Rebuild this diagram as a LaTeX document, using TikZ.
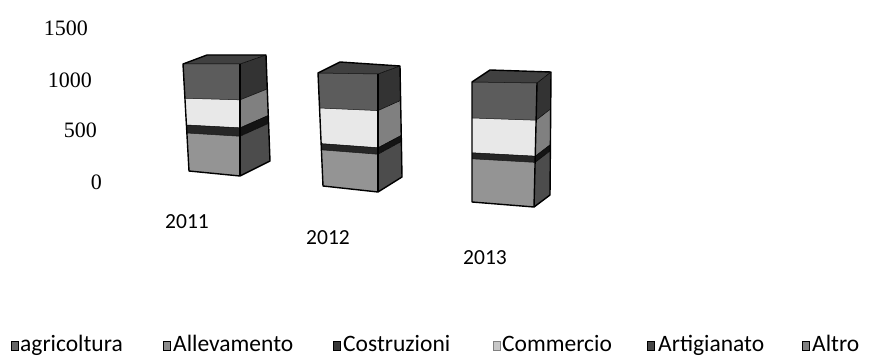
\documentclass[tikz,border=0pt]{standalone}
\usepackage{fontspec}
\setmainfont{Carlito}
\newfontfamily\axisfont{Liberation Serif}
\usetikzlibrary{calc}
\colorlet{cDarkF}{black!64}
\colorlet{cDarkS}{black!80}
\colorlet{cWhiteF}{black!9}
\colorlet{cWhiteS}{black!50}
\colorlet{cStripeF}{black!85}
\colorlet{cStripeS}{black!92}
\colorlet{cGrayF}{black!42}
\colorlet{cGrayS}{black!70}
\colorlet{cTop}{black!75}
\tikzset{
  axislbl/.style={font=\axisfont\fontsize{22}{24}\selectfont, anchor=east, inner sep=0pt},
  yearlbl/.style={font=\fontsize{21.5}{24}\selectfont, inner sep=0pt},
  leglbl/.style={font=\fontsize{23.5}{26}\selectfont, anchor=base west, inner sep=0pt},
  legicon/.style={draw=black, line width=0.6pt, minimum width=7pt, minimum height=9pt, inner sep=0pt},
  outline/.style={draw=black, line width=1.4pt, line join=round},
  inner/.style={draw=black, line width=0.5pt}
}
% segment of a face between fractions #3 and #4, on edges (#1) and (#2), colour #5
\newcommand\myseg[5]{%
  \fill[#5] ($(#1T)!#3!(#1B)$) -- ($(#2T)!#3!(#2B)$) -- ($(#2T)!#4!(#2B)$) -- ($(#1T)!#4!(#1B)$) -- cycle;}
\newcommand\mybar[3]{%
  \myseg{L}{R}{0}{#1}{cDarkF}
  \myseg{L}{R}{#1}{#2}{cWhiteF}
  \myseg{L}{R}{#2}{#3}{cStripeF}
  \myseg{L}{R}{#3}{1}{cGrayF}
  \myseg{R}{S}{0}{#1}{cDarkS}
  \myseg{R}{S}{#1}{#2}{cWhiteS}
  \myseg{R}{S}{#2}{#3}{cStripeS}
  \myseg{R}{S}{#3}{1}{cGrayS}
  \fill[cTop] (LT) -- (RT) -- (ST) -- (K) -- cycle;
  \draw[inner] ($(LT)!#1!(LB)$) -- ($(RT)!#1!(RB)$) -- ($(ST)!#1!(SB)$);
  \draw[inner] ($(LT)!#2!(LB)$) -- ($(RT)!#2!(RB)$) -- ($(ST)!#2!(SB)$);
  \draw[inner] ($(LT)!#3!(LB)$) -- ($(RT)!#3!(RB)$) -- ($(ST)!#3!(SB)$);
  \draw[inner] (LT) -- (RT) -- (ST);
  \draw[outline] (LT) -- (K) -- (ST) -- (SB) -- (RB) -- (LB) -- cycle;
  \draw[outline] (RT) -- (RB);
}
\begin{document}
\begin{tikzpicture}[x=1pt,y=-1pt]
\useasboundingbox (0,0) rectangle (872,358);
\fill[white] (0,0) rectangle (872,358);

% axis labels
\node[axislbl] (a1500) at (88,28) {1500};
\node[axislbl] (a1000) at (92,80) {1000};
\node[axislbl] (a500) at (97,130) {500};
\node[axislbl] (a0) at (102,182) {0};

% bar 2011
\coordinate (LT) at (183,64); \coordinate (LB) at (189,171);
\coordinate (RT) at (240,64); \coordinate (RB) at (240,176);
\coordinate (ST) at (266,55); \coordinate (SB) at (270,161);
\coordinate (K) at (207,55);
\mybar{0.32}{0.57}{0.645}

% bar 2012
\coordinate (LT) at (318,73); \coordinate (LB) at (323,186);
\coordinate (RT) at (378,74); \coordinate (RB) at (378,192);
\coordinate (ST) at (400,66); \coordinate (SB) at (402,177);
\coordinate (K) at (340,62);
\mybar{0.31}{0.625}{0.68}

% bar 2013
\coordinate (LT) at (472,82); \coordinate (LB) at (472,202);
\coordinate (RT) at (537,83); \coordinate (RB) at (534,207);
\coordinate (ST) at (551,72); \coordinate (SB) at (550,195);
\coordinate (K) at (490,70);
\mybar{0.30}{0.59}{0.64}

% year labels
\node[yearlbl] (y2011) at (187,222) {2011};
\node[yearlbl] (y2012) at (328,238) {2012};
\node[yearlbl] (y2013) at (485,258) {2013};

% legend
\node[legicon, fill=black!60] (i1) at (15,346) {};
\node[leglbl] (l1) at (20,351) {agricoltura};
\node[legicon, fill=black!45] (i2) at (167,346) {};
\node[leglbl] (l2) at (173,351) {Allevamento};
\node[legicon, fill=black!78] (i3) at (337,346) {};
\node[leglbl] (l3) at (343,351) {Costruzioni};
\node[legicon, draw=black!50, fill=black!22] (i4) at (497,346) {};
\node[leglbl] (l4) at (502,351) {Commercio};
\node[legicon, fill=black!72] (i5) at (651,346) {};
\node[leglbl] (l5) at (658,351) {Artigianato};
\node[legicon, fill=black!50] (i6) at (806,346) {};
\node[leglbl] (l6) at (812,351) {Altro};
\end{tikzpicture}
\end{document}
